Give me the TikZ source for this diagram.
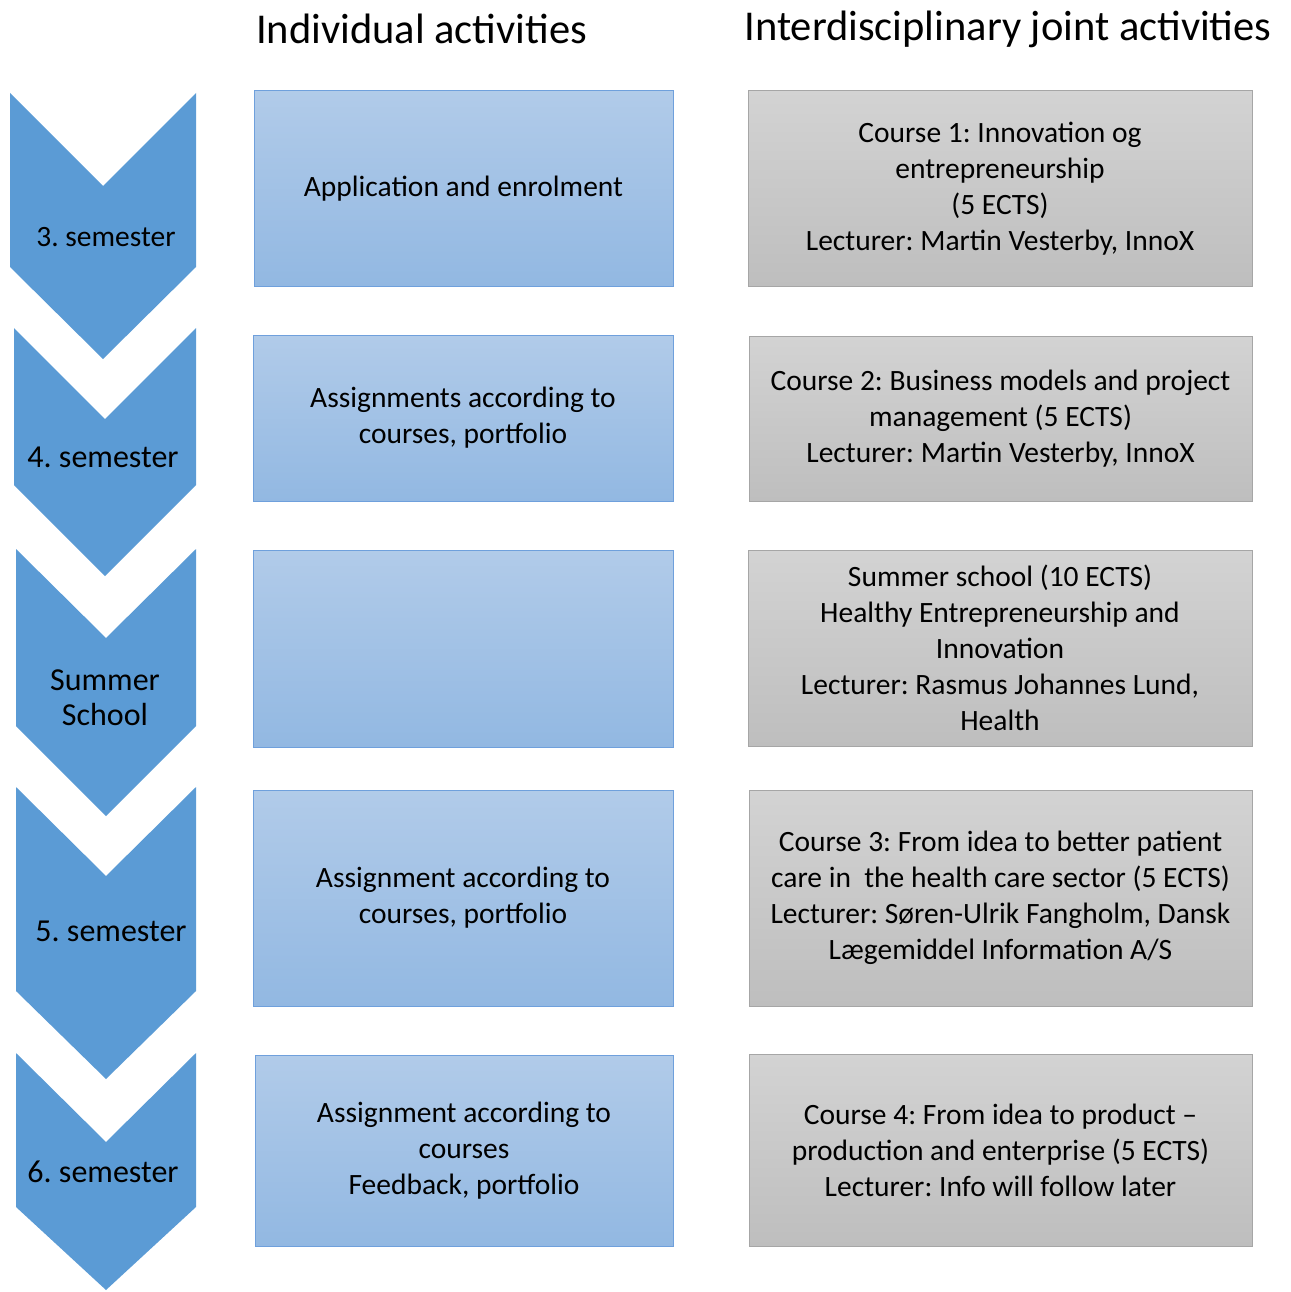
\documentclass[tikz,border=0pt]{standalone}
\usepackage{fontspec}
\setmainfont{Carlito}
\usetikzlibrary{shadings}
\frenchspacing
\definecolor{ChevronClr}{rgb}{0.357,0.608,0.835}
\definecolor{IndTopClr}{rgb}{0.694,0.796,0.914}
\definecolor{IndBotClr}{rgb}{0.573,0.722,0.886}
\definecolor{IndLineClr}{rgb}{0.435,0.627,0.863}
\definecolor{JointTopClr}{rgb}{0.827,0.827,0.827}
\definecolor{JointBotClr}{rgb}{0.745,0.745,0.745}
\definecolor{JointLineClr}{rgb}{0.651,0.651,0.651}

\begin{document}
\begin{tikzpicture}[x=1pt,y=-1pt,
  headtext/.style={font=\fontsize{42.5}{50}\selectfont,inner sep=0pt},
  semtext/.style={font=\fontsize{32}{35}\selectfont,align=center,inner sep=0pt},
  boxtext/.style={font=\fontsize{29.5}{36}\selectfont,align=center,inner sep=0pt},
  indbox/.style={boxtext,draw=IndLineClr,line width=1pt,top color=IndTopClr,bottom color=IndBotClr},
  jointbox/.style={boxtext,draw=JointLineClr,line width=1pt,top color=JointTopClr,bottom color=JointBotClr}]
\useasboundingbox (0,0) rectangle (1290,1292);

% column heads
\node[headtext] (headInd) at (421.5,29) {Individual activities};
\node[headtext] (headJoint) at (1008,29) {Interdisciplinary joint activities};

% chevrons
\fill[ChevronClr] (10,93) -- (103,186) -- (196,93) -- (196,267) -- (103,359) -- (10,267) -- cycle;
\fill[ChevronClr] (14,328) -- (105,419) -- (196,328) -- (196,485) -- (105,576) -- (14,485) -- cycle;
\fill[ChevronClr] (16,549) -- (106,638) -- (196,549) -- (196,726) -- (106,816) -- (16,726) -- cycle;
\fill[ChevronClr] (16,787) -- (106,876) -- (196,787) -- (196,991) -- (106,1079) -- (16,991) -- cycle;
\fill[ChevronClr] (16,1053) -- (106,1142) -- (196,1053) -- (196,1207) -- (106,1290) -- (16,1207) -- cycle;

\node[semtext,font=\fontsize{29.5}{35}\selectfont] (sem3) at (106,237) {3. semester};
\node[semtext] (sem4) at (103,457) {4. semester};
\node[semtext] (summer) at (105,698) {Summer\\School};
\node[semtext] (sem5) at (111,931) {5. semester};
\node[semtext] (sem6) at (103,1172) {6. semester};

% individual activities
\node[indbox,minimum width=419,minimum height=195] (ind1) at (463.5,188.5) {Application and enrolment};
\node[indbox,minimum width=420,minimum height=166] (ind2) at (463,418) {Assignments according to\\courses, portfolio};
\node[indbox,minimum width=420,minimum height=197] (ind3) at (463,648.5) {};
\node[indbox,minimum width=420,minimum height=216] (ind4) at (463,898) {Assignment according to\\courses, portfolio};
\node[indbox,minimum width=418,minimum height=191] (ind5) at (464,1150.5) {Assignment according to\\courses\\Feedback, portfolio};

% joint activities
\node[jointbox,minimum width=504,minimum height=195] (joint1) at (1000,188.5)
  {Course 1: Innovation og\\entrepreneurship\\(5 ECTS)\\Lecturer: Martin Vesterby, InnoX};
\node[jointbox,minimum width=503,minimum height=165] (joint2) at (1000.5,418.5)
  {Course 2: Business models and project\\management (5 ECTS)\\Lecturer: Martin Vesterby, InnoX};
\node[jointbox,minimum width=504,minimum height=196] (joint3) at (1000,648)
  {Summer school (10 ECTS)\\Healthy Entrepreneurship and\\Innovation\\Lecturer: Rasmus Johannes Lund,\\Health};
\node[jointbox,minimum width=503,minimum height=216] (joint4) at (1000.5,898)
  {Course 3: From idea to better patient\\care in\ \ the health care sector (5 ECTS)\\Lecturer: Søren-Ulrik Fangholm, Dansk\\Lægemiddel Information A/S};
\node[jointbox,minimum width=503,minimum height=192] (joint5) at (1000.5,1150)
  {Course 4: From idea to product –\\production and enterprise (5 ECTS)\\Lecturer: Info will follow later};

\end{tikzpicture}
\end{document}
